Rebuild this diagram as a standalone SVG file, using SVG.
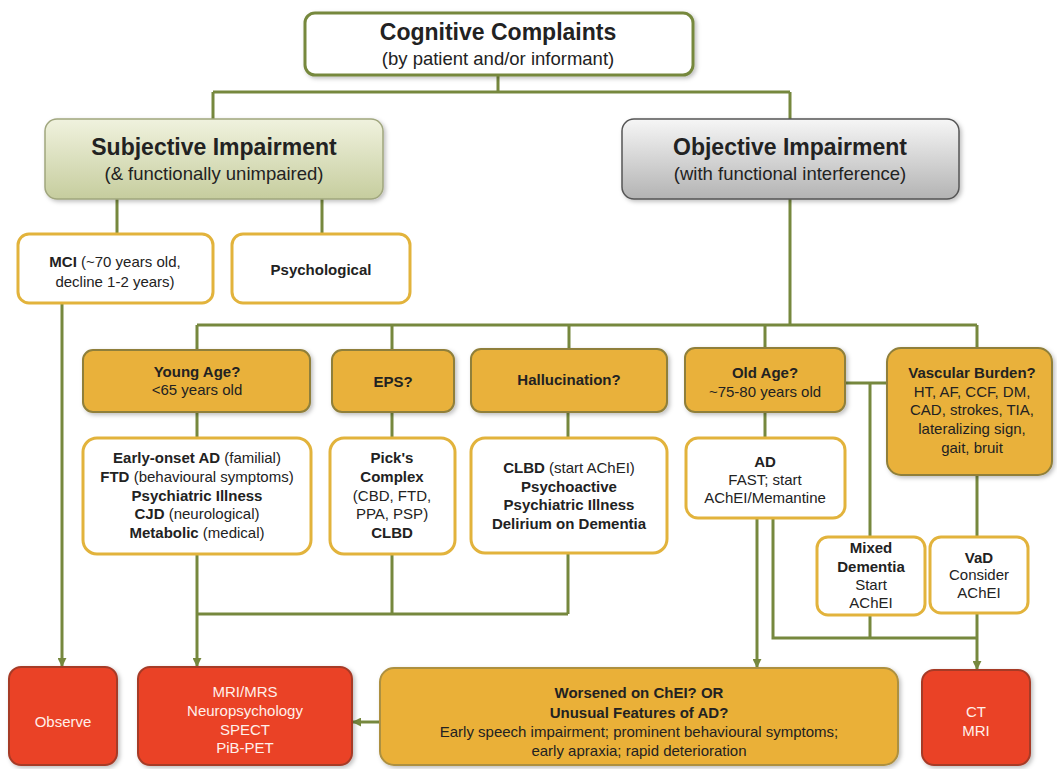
<svg xmlns="http://www.w3.org/2000/svg" width="1057" height="769" viewBox="0 0 1057 769">
<defs>
<style>
.t{font-family:"Liberation Sans",Arial,sans-serif;font-size:15px;fill:#222;text-anchor:middle}
.b{font-weight:bold}
.h1{font-size:23px;font-weight:bold}
.h2{font-size:23px;font-weight:bold}
.sub{font-size:18.5px}
.rt{fill:#fff0ea}
.conn{stroke:#76883e;stroke-width:3;fill:none}
.wbox{fill:#fff;stroke:#e2b33c;stroke-width:3}
.obox{fill:#e9b13a;stroke:#8f7f3a;stroke-width:2}
.rbox{fill:#ea4325;stroke:#a63a28;stroke-width:2}
.ybox{fill:#eab038;stroke:#ad9040;stroke-width:2}
</style>
<linearGradient id="gGreen" x1="0" y1="0" x2="0" y2="1">
<stop offset="0" stop-color="#f0f2de"/>
<stop offset="1" stop-color="#c6cd9e"/>
</linearGradient>
<linearGradient id="gGray" x1="0" y1="0" x2="0" y2="1">
<stop offset="0" stop-color="#f6f6f6"/>
<stop offset="1" stop-color="#b3b3b3"/>
</linearGradient>
<filter id="sh" x="-10%" y="-10%" width="130%" height="130%">
<feDropShadow dx="2" dy="2" stdDeviation="2" flood-color="#000" flood-opacity="0.25"/>
</filter>
<marker id="arr" viewBox="0 0 10 10" refX="9" refY="5" markerWidth="9" markerHeight="9" markerUnits="userSpaceOnUse" orient="auto">
<path d="M0,0 L10,5 L0,10 z" fill="#76883e"/>
</marker>
</defs>
<rect width="1057" height="769" fill="#fff"/>

<g id="connectors">
<path class="conn" d="M498,75 V92 M213,92 H790 M213,92 V119 M790,92 V119"/>
<path class="conn" d="M117,199 V234 M322,199 V234"/>
<path class="conn" d="M62,303 V666" marker-end="url(#arr)"/>
<path class="conn" d="M790,199 V325 M197,325 H977 M197,325 V350 M392,325 V350 M569,325 V349 M765,325 V348 M977,325 V348"/>
<path class="conn" d="M197,412 V438 M392,412 V438 M568,412 V438 M765,412 V438"/>
<path class="conn" d="M845,383 H887 M870,383 V537 M977,475 V537"/>
<path class="conn" d="M197,554 V666" marker-end="url(#arr)"/>
<path class="conn" d="M392,554 V614 M568,553 V614 M197,614 H568"/>
<path class="conn" d="M757,518 V667" marker-end="url(#arr)"/>
<path class="conn" d="M773,518 V638 H977 M870,615 V638"/>
<path class="conn" d="M977,613 V669" marker-end="url(#arr)"/>
<path class="conn" d="M380,722 H353" marker-end="url(#arr)"/>
</g>

<g id="cognitive">
<rect x="305" y="13" width="388" height="62" rx="10" fill="#fff" stroke="#76883e" stroke-width="3" filter="url(#sh)"/>
<text class="t h1" x="498" y="40">Cognitive Complaints</text>
<text class="t sub" x="498" y="65">(by patient and/or informant)</text>
</g>

<g id="subjective">
<rect x="45" y="119" width="338" height="80" rx="12" fill="url(#gGreen)" stroke="#a0a67e" stroke-width="1.5" filter="url(#sh)"/>
<text class="t h2" x="214" y="155">Subjective Impairment</text>
<text class="t sub" x="214" y="180">(&amp; functionally  unimpaired)</text>
</g>

<g id="objective">
<rect x="622" y="119" width="337" height="80" rx="12" fill="url(#gGray)" stroke="#555" stroke-width="1.5" filter="url(#sh)"/>
<text class="t h2" x="790" y="155">Objective Impairment</text>
<text class="t sub" x="790" y="180">(with functional  interference)</text>
</g>

<g id="mci">
<rect class="wbox" x="18" y="234" width="195" height="69" rx="11"/>
<text class="t" x="115" y="267"><tspan class="b">MCI</tspan> (~70 years old,</text>
<text class="t" x="115" y="287">decline 1-2 years)</text>
</g>

<g id="psychological">
<rect class="wbox" x="232" y="234" width="178" height="69" rx="11"/>
<text class="t b" x="321" y="275">Psychological</text>
</g>

<g id="young-age">
<rect class="obox" x="83" y="350" width="227" height="62" rx="10" filter="url(#sh)"/>
<text class="t b" x="197" y="377">Young Age?</text>
<text class="t" x="197" y="395">&lt;65 years old</text>
</g>

<g id="eps">
<rect class="obox" x="332" y="350" width="122" height="62" rx="10" filter="url(#sh)"/>
<text class="t b" x="393" y="387">EPS?</text>
</g>

<g id="hallucination">
<rect class="obox" x="471" y="349" width="196" height="63" rx="10" filter="url(#sh)"/>
<text class="t b" x="569" y="385">Hallucination?</text>
</g>

<g id="old-age">
<rect class="obox" x="685" y="348" width="160" height="64" rx="10" filter="url(#sh)"/>
<text class="t b" x="765" y="378">Old Age?</text>
<text class="t" x="765" y="397">~75-80 years old</text>
</g>

<g id="vascular">
<rect class="obox" x="887" y="348" width="165" height="127" rx="14" filter="url(#sh)"/>
<text class="t b" x="972" y="378">Vascular Burden?</text>
<text class="t" x="972" y="397">HT, AF, CCF, DM,</text>
<text class="t" x="972" y="415">CAD, strokes, TIA,</text>
<text class="t" x="972" y="434">lateralizing sign,</text>
<text class="t" x="972" y="453">gait, bruit</text>
</g>

<g id="early-onset">
<rect class="wbox" x="83" y="438" width="228" height="116" rx="14"/>
<text class="t" x="197" y="463"><tspan class="b">Early-onset AD</tspan> (familial)</text>
<text class="t" x="197" y="482"><tspan class="b">FTD</tspan> (behavioural symptoms)</text>
<text class="t b" x="197" y="501">Psychiatric Illness</text>
<text class="t" x="197" y="519"><tspan class="b">CJD</tspan> (neurological)</text>
<text class="t" x="197" y="538"><tspan class="b">Metabolic</tspan> (medical)</text>
</g>

<g id="picks">
<rect class="wbox" x="330" y="438" width="125" height="116" rx="14"/>
<text class="t b" x="392" y="463">Pick's</text>
<text class="t b" x="392" y="482">Complex</text>
<text class="t" x="392" y="501">(CBD, FTD,</text>
<text class="t" x="392" y="519">PPA, PSP)</text>
<text class="t b" x="392" y="538">CLBD</text>
</g>

<g id="clbd">
<rect class="wbox" x="471" y="438" width="196" height="115" rx="14"/>
<text class="t" x="569" y="473"><tspan class="b">CLBD</tspan> (start AChEI)</text>
<text class="t b" x="569" y="492">Psychoactive</text>
<text class="t b" x="569" y="510">Psychiatric Illness</text>
<text class="t b" x="569" y="529">Delirium on Dementia</text>
</g>

<g id="ad">
<rect class="wbox" x="686" y="438" width="159" height="80" rx="12"/>
<text class="t b" x="765" y="467">AD</text>
<text class="t" x="765" y="485">FAST; start</text>
<text class="t" x="765" y="503">AChEI/Memantine</text>
</g>

<g id="mixed">
<rect class="wbox" x="817" y="537" width="108" height="78" rx="11"/>
<text class="t b" x="871" y="553">Mixed</text>
<text class="t b" x="871" y="572">Dementia</text>
<text class="t" x="871" y="590">Start</text>
<text class="t" x="871" y="608">AChEI</text>
</g>

<g id="vad">
<rect class="wbox" x="930" y="537" width="98" height="76" rx="11"/>
<text class="t b" x="979" y="563">VaD</text>
<text class="t" x="979" y="580">Consider</text>
<text class="t" x="979" y="598">AChEI</text>
</g>

<g id="observe">
<rect class="rbox" x="9" y="667" width="108" height="98" rx="12" filter="url(#sh)"/>
<text class="t rt" x="63" y="727">Observe</text>
</g>

<g id="imaging">
<rect class="rbox" x="138" y="667" width="214" height="98" rx="12" filter="url(#sh)"/>
<text class="t rt" x="245" y="697">MRI/MRS</text>
<text class="t rt" x="245" y="716">Neuropsychology</text>
<text class="t rt" x="245" y="735">SPECT</text>
<text class="t rt" x="245" y="753">PiB-PET</text>
</g>

<g id="worsened">
<rect class="ybox" x="380" y="668" width="518" height="97" rx="14" filter="url(#sh)"/>
<text class="t b" x="639" y="698">Worsened on ChEI? OR</text>
<text class="t b" x="639" y="718">Unusual Features of AD?</text>
<text class="t" x="639" y="737">Early speech impairment; prominent behavioural  symptoms;</text>
<text class="t" x="639" y="756">early apraxia; rapid deterioration</text>
</g>

<g id="ct-mri">
<rect class="rbox" x="922" y="670" width="108" height="95" rx="12" filter="url(#sh)"/>
<text class="t rt" x="976" y="717">CT</text>
<text class="t rt" x="976" y="736">MRI</text>
</g>
</svg>
